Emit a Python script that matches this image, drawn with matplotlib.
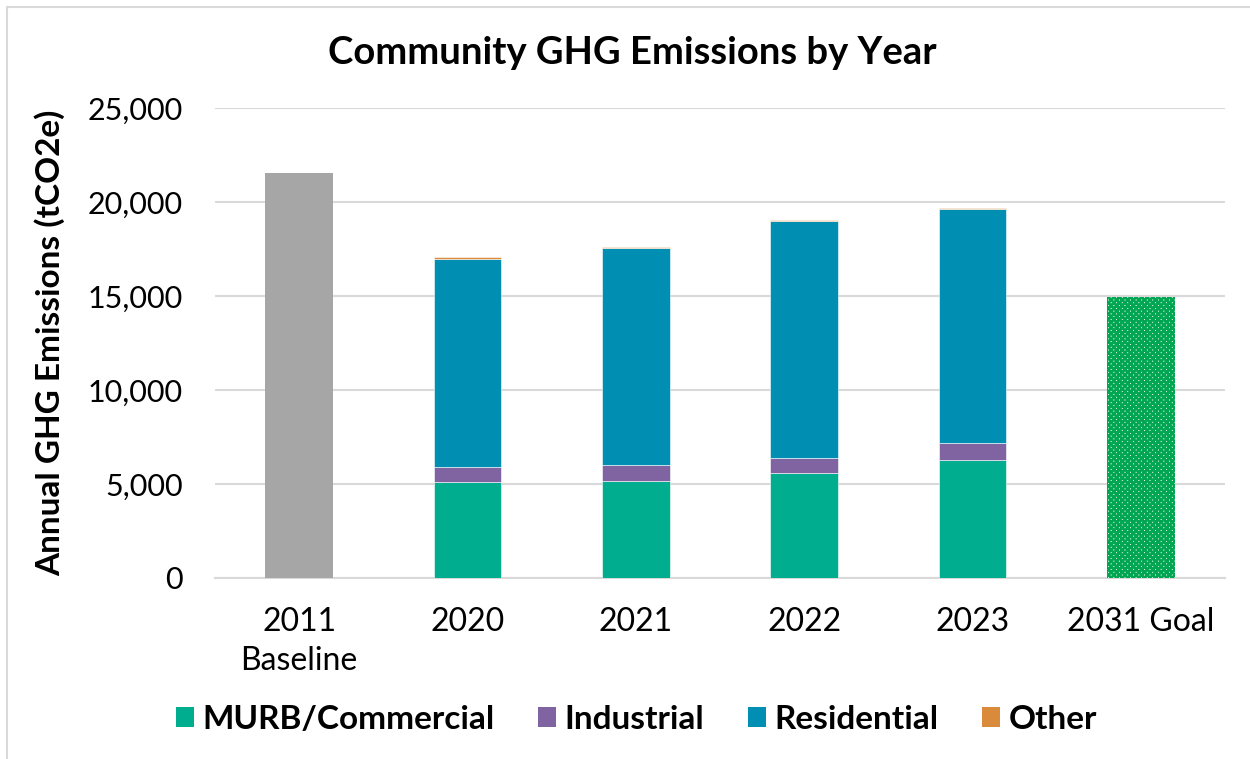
import matplotlib
matplotlib.use("Agg")
import matplotlib.pyplot as plt
from matplotlib.patches import Rectangle, Patch
import numpy as np

# community emissions, tCO2e
years = ["2011\nBaseline", "2020", "2021", "2022", "2023", "2031 Goal"]
baseline = 21540
goal = 14950
murb = [5120, 5160, 5590, 6280]
industrial = [770, 850, 790, 885]
residential = [11090, 11540, 12600, 12460]
other = [90, 80, 80, 75]

sectors = ["MURB/Commercial", "Industrial", "Residential", "Other"]
colors = ["#00AE8F", "#8064A2", "#008FB3", "#D98A3A"]

plt.rcParams["font.family"] = ["Lato", "DejaVu Sans"]
plt.rcParams["hatch.linewidth"] = 2.0

fig = plt.figure(figsize=(12.5, 7.59), dpi=100)
ax = fig.add_axes([0.172, 0.2385, 0.808, 0.6192])

x = np.arange(len(years))
w = 0.4

ax.bar(x[0], baseline, w, color="#A6A6A6", zorder=3)

bottom = np.zeros(len(murb))
for vals, col in zip([murb, industrial, residential, other], colors):
    ax.bar(x[1:5], vals, w, bottom=bottom, color=col,
           edgecolor="white", linewidth=0.4, zorder=3)
    bottom += np.array(vals)

ax.bar(x[5], goal, w, facecolor="white", edgecolor="#00A651",
       hatch="xxxxxx", linewidth=0, zorder=3)

ax.set_xlim(-0.5, 5.5)
ax.set_ylim(0, 25000)
ax.set_yticks(np.arange(0, 25001, 5000))
ax.set_yticklabels([f"{v:,}" for v in range(0, 25001, 5000)])
ax.set_xticks(x)
ax.set_xticklabels(years, linespacing=1.35)
ax.tick_params(axis="both", length=0, colors="black")
ax.tick_params(axis="y", pad=23, labelsize=22)
ax.tick_params(axis="x", pad=21, labelsize=23)

ax.grid(axis="y", color="#D9D9D9", linewidth=1.5, zorder=0)
for s in ["top", "right", "left"]:
    ax.spines[s].set_visible(False)
ax.spines["bottom"].set_color("#D9D9D9")
ax.spines["bottom"].set_linewidth(1.5)

ax.set_ylabel("Annual GHG Emissions (tCO2e)", fontsize=24,
              fontweight="bold", labelpad=16)
fig.text(0.506, 0.93, "Community GHG Emissions by Year", ha="center",
         va="center", fontsize=27.5, fontweight="bold")

handles = [Patch(facecolor=c, label=s) for s, c in zip(sectors, colors)]
fig.legend(handles=handles, loc="center", bbox_to_anchor=(0.509, 0.052),
           ncol=4, frameon=False, prop={"size": 24, "weight": "bold"},
           handlelength=0.55, handleheight=0.55, handletextpad=0.25,
           columnspacing=1.3)

# chart area outline
fig.patches.append(Rectangle((7 / 1250, -0.05), 1.1, 1 - 7 / 759 + 0.05,
                             transform=fig.transFigure, fill=False,
                             edgecolor="#D9D9D9", linewidth=1.5))

fig.savefig("out.png", dpi=100)
